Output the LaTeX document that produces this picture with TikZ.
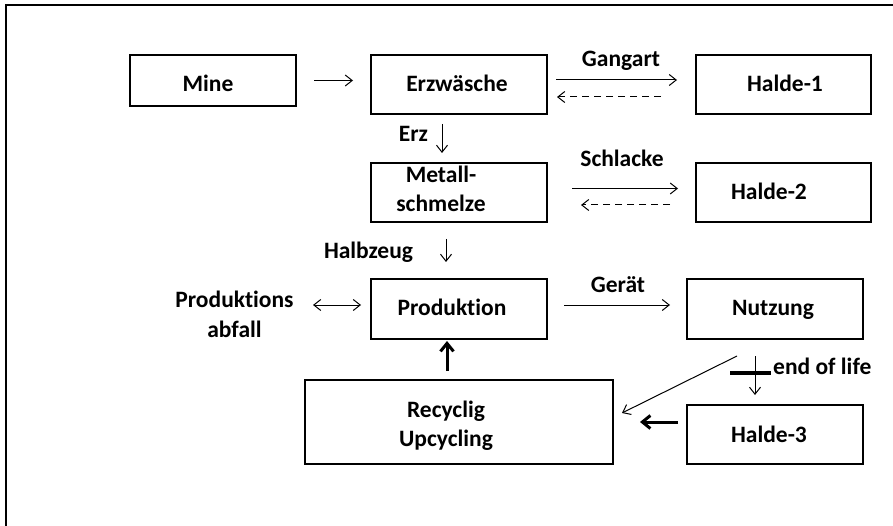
\documentclass[tikz,border=0pt]{standalone}
\usepackage{fontspec}
\setmainfont{Carlito}[Ligatures=NoCommon]
\usetikzlibrary{arrows.meta}
\begin{document}
\begin{tikzpicture}[x=1pt,y=-1pt,
  box/.style={draw,line width=2pt,inner sep=0pt},
  txt/.style={font=\fontsize{23.5}{29}\selectfont\bfseries,inner sep=0pt,anchor=base},
  thinarr/.style={line width=1pt,-{Straight Barb[length=7pt,width=11pt]}},
  dasharr/.style={line width=1pt,dash pattern=on 7pt off 5pt,-{Straight Barb[length=7pt,width=11pt]}},
  botharr/.style={line width=1pt,{Straight Barb[length=7pt,width=11pt]}-{Straight Barb[length=7pt,width=11pt]}},
  heavyarr/.style={line width=3pt,-{Straight Barb[length=8pt,width=13pt]}}]
\useasboundingbox (0,0) rectangle (893,526);
\draw[line width=2pt] (6,527) -- (6,5) -- (894,5);
% boxes
\node[box,minimum width=166pt,minimum height=51pt] (mine) at (213,80.5) {};
\node[box,minimum width=176pt,minimum height=59pt] (erz) at (459,84.5) {};
\node[box,minimum width=175pt,minimum height=59pt] (h1) at (783.5,84.5) {};
\node[box,minimum width=176pt,minimum height=59pt] (met) at (459,192.5) {};
\node[box,minimum width=175pt,minimum height=59pt] (h2) at (783.5,192.5) {};
\node[box,minimum width=176pt,minimum height=60pt] (prod) at (459,309) {};
\node[box,minimum width=176pt,minimum height=60pt] (nutz) at (775,309) {};
\node[box,minimum width=308pt,minimum height=84pt] (rec) at (459,422) {};
\node[box,minimum width=176pt,minimum height=59pt] (h3) at (775,434.5) {};
% texts in boxes
\node[txt] (mineT) at (208,92) {Mine};
\node[txt] (erzT) at (457,92) {Erzwäsche};
\node[txt] (h1T) at (785,92) {Halde-1};
\node[txt] (metT) at (441,183) {\begin{tabular}[t]{@{}c@{}}Metall-\\schmelze\end{tabular}};
\node[txt] (h2T) at (769,200) {Halde-2};
\node[txt] (prodT) at (452,316) {Produktion};
\node[txt] (nutzT) at (773,316) {Nutzung};
\node[txt] (recT) at (446,417) {\begin{tabular}[t]{@{}c@{}}Recyclig\\Upcycling\end{tabular}};
\node[txt] (h3T) at (769,442) {Halde-3};
% labels
\node[txt] (gang) at (621,67) {Gangart};
\node[txt] (schl) at (622,167) {Schlacke};
\node[txt] (erzL) at (413.5,142) {Erz};
\node[txt] (halb) at (368.5,259) {Halbzeug};
\node[txt] (ger) at (618,292) {Gerät};
\node[txt] (abf) at (234.5,308) {\begin{tabular}[t]{@{}c@{}}Produktions\\abfall\end{tabular}};
\node[txt,anchor=base west] (eol) at (773,374) {end of life};
% connectors
\draw[thinarr] ([xshift=17pt]mine.east) -- ([xshift=-17pt]erz.west |- mine.east);
\draw[thinarr] ([xshift=8pt,yshift=4.5pt]erz.east) -- ([xshift=-18pt,yshift=4.5pt]h1.west);
\draw[dasharr] ([xshift=-34pt,yshift=-12.5pt]h1.west) -- ([xshift=9pt,yshift=-12.5pt]erz.east);
\draw[thinarr] ([xshift=-17pt,yshift=-9pt]erz.south) -- ([xshift=-17pt,yshift=9pt]met.north);
\draw[thinarr] ([xshift=24pt,yshift=4pt]met.east) -- ([xshift=-17pt,yshift=4pt]h2.west);
\draw[dasharr] ([xshift=-25pt,yshift=-12.5pt]h2.west) -- ([xshift=33pt,yshift=-12.5pt]met.east);
\draw[thinarr] ([xshift=-13pt,yshift=-16pt]met.south) -- ([xshift=-13pt,yshift=16pt]prod.north);
\draw[botharr] ([xshift=-57pt,yshift=4pt]prod.west) -- ([xshift=-9pt,yshift=4pt]prod.west);
\draw[thinarr] ([xshift=16pt,yshift=4pt]prod.east) -- ([xshift=-16pt,yshift=4pt]nutz.west);
\draw[heavyarr] ([xshift=-12pt,yshift=8pt]rec.north) -- ([xshift=-12pt,yshift=-1pt]prod.south);
\draw[thinarr] ([xshift=-38pt,yshift=-16pt]nutz.south) -- ([xshift=8pt,yshift=9pt]rec.east);
\draw[thinarr] ([xshift=-20pt,yshift=-16pt]nutz.south) -- ([xshift=-20pt,yshift=9pt]h3.north);
\draw[line width=4pt] ([xshift=-45pt,yshift=-33pt]nutz.south) -- ([xshift=-4pt,yshift=-33pt]nutz.south);
\draw[heavyarr] ([xshift=-8pt,yshift=12.5pt]h3.west) -- ([xshift=26pt]rec.east);
\end{tikzpicture}
\end{document}
